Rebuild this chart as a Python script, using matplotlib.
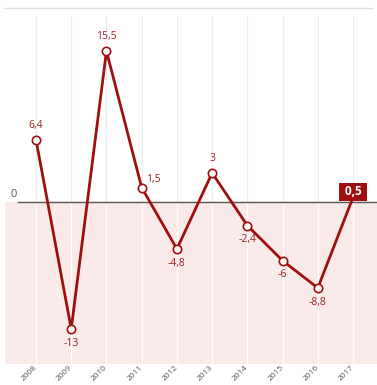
import matplotlib.pyplot as plt
from matplotlib.lines import Line2D

plt.rcParams["font.family"] = ["Open Sans", "DejaVu Sans"]

years = [2008, 2009, 2010, 2011, 2012, 2013, 2014, 2015, 2016, 2017]
values = [6.4, -13, 15.5, 1.5, -4.8, 3, -2.4, -6, -8.8, 0.5]
labels = ["6,4", "-13", "15,5", "1,5", "-4,8", "3", "-2,4", "-6", "-8,8", "0,5"]

red = "#a00f0f"
label_red = "#9c2323"

W, H = 377, 385
fig = plt.figure(figsize=(W / 100, H / 100), dpi=100)
ax = fig.add_axes([5 / W, (H - 364) / H, 372 / W, (364 - 15) / H])

ymin, ymax = -16.6, 19.2
ax.set_xlim(2007.12, 2017.68)
ax.set_ylim(ymin, ymax)

# pink area below zero
ax.axhspan(ymin, 0, color="#fbeaea", zorder=0)

# vertical grid
ax.vlines(years, 0, ymax, color="#ececec", linewidth=0.8, zorder=1)
ax.vlines(years, ymin, 0, color="#ffffff", linewidth=0.8, zorder=1)

# zero line
ax.plot([2007.5, 2017.68], [0, 0], color="#555555", linewidth=1.0, zorder=2)
ax.text(2007.45, 0.25, "0", color="#555555", fontsize=8, ha="right", va="bottom")

ax.plot(years[:-1], values[:-1], color=red, linewidth=2.0, zorder=3,
        marker="o", markersize=6, markerfacecolor="white",
        markeredgecolor=red, markeredgewidth=1.2)
ax.plot(years[-2:], values[-2:], color=red, linewidth=2.0, zorder=2.5)

for x, y, t in zip(years[:-1], values[:-1], labels[:-1]):
    if t == "1,5":
        ax.text(x + 0.12, y + 0.3, t, color=label_red, fontsize=7.5,
                ha="left", va="bottom")
    elif y >= 0:
        ax.text(x, y + 0.9, t, color=label_red, fontsize=7.5,
                ha="center", va="bottom")
    else:
        ax.text(x, y - 0.9, t, color=label_red, fontsize=7.5,
                ha="center", va="top")

ax.text(years[-1], values[-1] + 0.55, " " + labels[-1] + " ", color="white",
        fontsize=8.5, fontweight="bold", ha="center", va="center", zorder=5,
        bbox=dict(boxstyle="square,pad=0.2", facecolor=red, edgecolor="none"))

ax.set_xticks(years)
ax.set_xticklabels([str(y) for y in years], rotation=45, ha="right", va="center",
                   rotation_mode="anchor", fontsize=6, color="#555555")
ax.tick_params(axis="x", length=0, pad=2)
ax.set_yticks([])
for s in ax.spines.values():
    s.set_visible(False)

# header rule
fig.add_artist(Line2D([5 / W, 372 / W], [1 - 8 / H, 1 - 8 / H],
                      color="#dddddd", linewidth=1))

fig.savefig("out.png", dpi=100)
